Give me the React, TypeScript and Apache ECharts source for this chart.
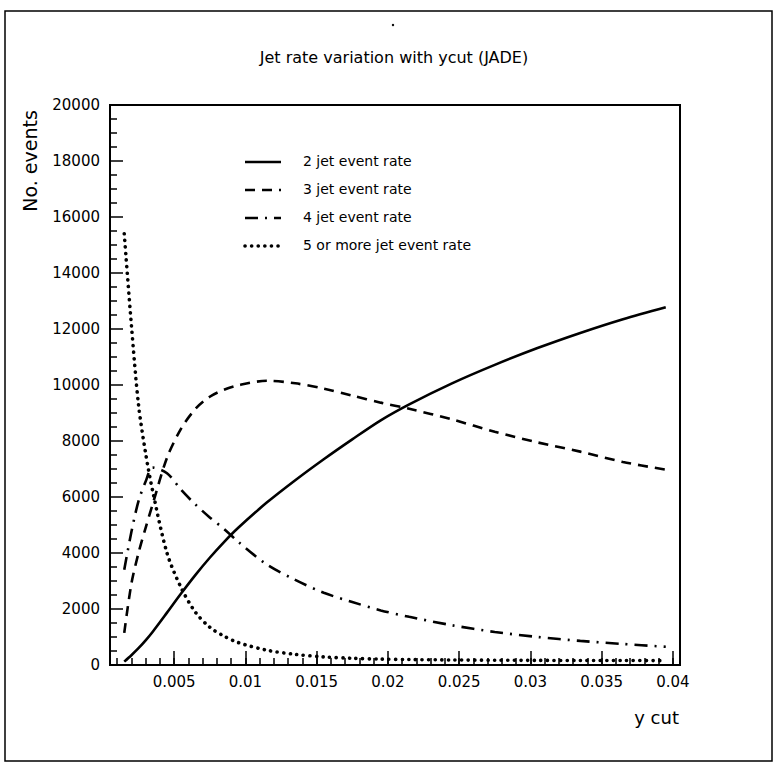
import React, { useEffect, useRef } from "react";
import * as echarts from "echarts";

// y cut values at which the curves were read
const YCUT = [0.0015, 0.002, 0.0025, 0.003, 0.0035, 0.0045, 0.0055, 0.0065, 0.0075, 0.0085, 0.0095, 0.0115, 0.0135, 0.0155, 0.0175, 0.0195, 0.0215, 0.0245, 0.0275, 0.0305, 0.0335, 0.0365, 0.0395];
const TWO_JET = [120, 350, 600, 880, 1190, 1870, 2560, 3220, 3830, 4390, 4900, 5800, 6600, 7350, 8060, 8740, 9310, 10060, 10720, 11320, 11860, 12350, 12780];
const THREE_JET = [1150, 2900, 4000, 4900, 5750, 7400, 8450, 9150, 9580, 9830, 9990, 10150, 10060, 9870, 9620, 9370, 9150, 8770, 8330, 7950, 7620, 7250, 6975];
const FOUR_JET = [3400, 4750, 5850, 6550, 7050, 6850, 6250, 5730, 5270, 4860, 4400, 3590, 3040, 2580, 2250, 1950, 1720, 1420, 1180, 1000, 860, 750, 650];
const FIVE_JET = [15400, 12150, 9300, 7560, 6200, 4000, 2750, 1880, 1350, 1030, 800, 530, 380, 290, 240, 210, 195, 180, 170, 165, 160, 160, 155];

const SERIES_NAMES = ["2 jet event rate", "3 jet event rate", "4 jet event rate", "5 or more jet event rate"];
const X_MAJOR_TICKS = [0.005, 0.01, 0.015, 0.02, 0.025, 0.03, 0.035, 0.04];
const X_MINOR_TICKS = Array.from({ length: 40 }, (_, i) => Number(((i + 1) * 0.001).toFixed(3)));

const TITLE = "Jet rate variation with ycut (JADE)";
const Y_NAME = "No. events";
const X_NAME = "y cut";

const FONT = "DejaVu Sans";

const STYLES = [
  { type: "solid" as any, cap: "butt" },
  { type: [10, 7], cap: "butt" },
  { type: [13, 7, 2, 7], cap: "butt" },
  { type: [0.1, 6.5], cap: "round" },
];
const WIDTHS = [2.6, 2.6, 2.6, 3.6];

export default function App() {
  const ref = useRef<HTMLDivElement>(null);
  useEffect(() => {
    if (!ref.current) return;
    const chart = echarts.init(ref.current, null, { renderer: "svg" });
    const datasets = [TWO_JET, THREE_JET, FOUR_JET, FIVE_JET];
    const series = datasets.map((vals, i) => ({
      name: SERIES_NAMES[i],
      type: "line",
      showSymbol: false,
      smooth: 0.3,
      data: YCUT.map((x, j) => [x, vals[j]]),
      lineStyle: { color: "#000", width: WIDTHS[i], type: STYLES[i].type, cap: STYLES[i].cap },
      itemStyle: { color: "#000" },
      z: 3,
    }));

    const legendY = [162, 190, 218, 246];
    const legendGraphics: any[] = [];
    legendY.forEach((y, i) => {
      legendGraphics.push({
        type: "line",
        shape: { x1: 245, y1: y, x2: 281, y2: y },
        style: {
          stroke: "#000",
          lineWidth: WIDTHS[i],
          lineDash: i === 0 ? null : (STYLES[i].type as number[]),
          lineCap: STYLES[i].cap,
        },
      });
      legendGraphics.push({
        type: "text",
        x: 303,
        y: y - 1,
        style: {
          text: SERIES_NAMES[i],
          fill: "#000",
          fontSize: 14,
          fontFamily: FONT,
          textAlign: "left",
          textVerticalAlign: "middle",
          verticalAlign: "middle",
        },
      });
    });

    const option: any = {
      animation: false,
      backgroundColor: "#fff",
      grid: {
        left: 110,
        right: 97,
        top: 105,
        bottom: 101,
        show: true,
        borderColor: "#000",
        borderWidth: 2,
        backgroundColor: "transparent",
        containLabel: false,
      },
      xAxis: [
        {
          type: "value",
          min: 0.0005,
          max: 0.0405,
          position: "bottom",
          axisLine: { show: true, onZero: false, lineStyle: { color: "#000", width: 2 } },
          axisTick: { show: true, inside: true, length: 14, customValues: X_MAJOR_TICKS, lineStyle: { color: "#000", width: 1.5 } },
          axisLabel: {
            show: true,
            customValues: X_MAJOR_TICKS,
            formatter: (v: number) => String(Number(v.toFixed(3))),
            color: "#000",
            fontSize: 15,
            fontFamily: FONT,
            margin: 9,
          },
          splitLine: { show: false },
        },
        {
          type: "value",
          min: 0.0005,
          max: 0.0405,
          position: "bottom",
          axisLine: { show: false, onZero: false },
          axisTick: { show: true, inside: true, length: 7, customValues: X_MINOR_TICKS, lineStyle: { color: "#000", width: 1.5 } },
          axisLabel: { show: false },
          splitLine: { show: false },
        },
      ],
      yAxis: {
        type: "value",
        min: 0,
        max: 20000,
        interval: 2000,
        axisLine: { show: true, onZero: false, lineStyle: { color: "#000", width: 2 } },
        axisTick: { show: true, inside: true, length: 13, lineStyle: { color: "#000", width: 1.5 } },
        minorTick: { show: true, splitNumber: 4, length: 7, lineStyle: { color: "#000", width: 1.5 } },
        axisLabel: {
          formatter: (v: number) => String(v),
          color: "#000",
          fontSize: 15,
          fontFamily: FONT,
          margin: 10,
        },
        splitLine: { show: false },
        minorSplitLine: { show: false },
      },
      series,
      graphic: [
        {
          type: "rect",
          shape: { x: 5, y: 11, width: 767, height: 750 },
          style: { fill: "none", stroke: "#000", lineWidth: 1.5 },
          z: 0,
        },
        {
          type: "circle",
          shape: { cx: 393, cy: 25, r: 1.2 },
          style: { fill: "#000" },
        },
        {
          type: "text",
          x: 394,
          y: 57,
          style: {
            text: TITLE,
            fill: "#000",
            fontSize: 16,
            fontFamily: FONT,
            textAlign: "center",
            textVerticalAlign: "middle",
            verticalAlign: "middle",
          },
        },
        {
          type: "text",
          x: 30,
          y: 161,
          rotation: Math.PI / 2,
          style: {
            text: Y_NAME,
            fill: "#000",
            fontSize: 19,
            fontFamily: FONT,
            textAlign: "center",
            textVerticalAlign: "middle",
            verticalAlign: "middle",
          },
        },
        {
          type: "text",
          x: 679,
          y: 717,
          style: {
            text: X_NAME,
            fill: "#000",
            fontSize: 18,
            fontFamily: FONT,
            textAlign: "right",
            textVerticalAlign: "middle",
            verticalAlign: "middle",
          },
        },
        ...legendGraphics,
      ],
    };
    chart.setOption(option);
    return () => chart.dispose();
  }, []);
  return <div ref={ref} style={{ position: "fixed", left: 0, top: 0, width: 777, height: 766 }} />;
}
